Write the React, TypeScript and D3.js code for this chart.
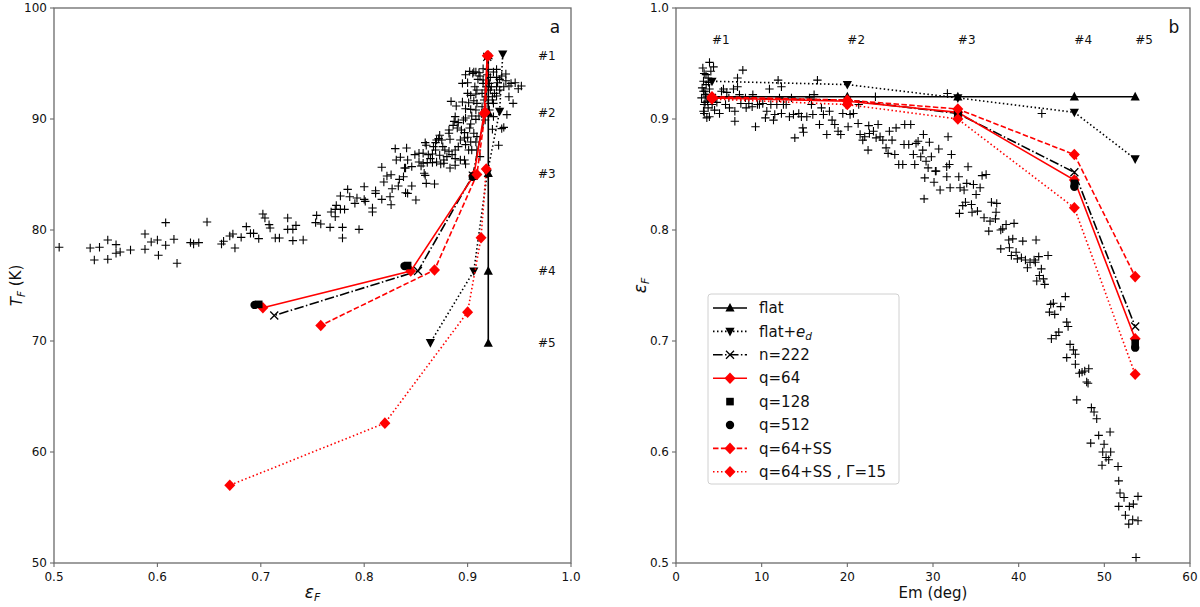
import React from 'react';
import * as d3 from 'd3';

// ---------------- DATA ----------------
const STATIONS = ['#1', '#2', '#3', '#4', '#5'];
const EM = [4.2, 20.0, 32.9, 46.5, 53.6];

const FLAT_EPS = [0.92, 0.92, 0.92, 0.92, 0.92];
const FLAT_T = [95.7, 90.6, 85.1, 76.3, 69.8];
const FLATED_EPS = [0.934, 0.931, 0.919, 0.906, 0.864];
const FLATED_T = [95.85, 90.7, 85.1, 76.3, 69.85];
const N222_EPS = [0.919, 0.917, 0.905, 0.852, 0.713];
const N222_T = [95.6, 90.5, 84.9, 76.3, 72.3];
const Q64_EPS = [0.919, 0.916, 0.906, 0.845, 0.702];
const Q64_T = [95.7, 90.5, 84.9, 76.3, 73.0];
const Q128_IDX = [2, 3, 4];
const Q128_EPS = [0.906, 0.842, 0.698];
const Q128_T = [84.85, 76.8, 73.3];
const Q512_IDX = [2, 3, 4];
const Q512_EPS = [0.905, 0.839, 0.694];
const Q512_T = [84.8, 76.75, 73.25];
const Q64SS_EPS = [0.920, 0.917, 0.909, 0.868, 0.758];
const Q64SS_T = [95.7, 90.6, 85.0, 76.4, 71.4];
const G15_EPS = [0.918, 0.913, 0.900, 0.820, 0.670];
const G15_T = [85.5, 79.3, 72.6, 62.6, 57.0];

// observations: left panel [eps_F, T_F]
const OBS_LEFT: [number, number][] = [
  [0.505,78.44],[0.535,78.38],[0.544,78.44],[0.552,79.10],[0.560,78.68],[0.539,77.30],[0.552,77.36],[0.560,77.90],
  [0.564,78.02],[0.574,78.20],[0.588,78.26],[0.588,79.64],[0.594,78.92],[0.600,79.10],[0.601,77.72],[0.608,78.62],
  [0.608,80.66],[0.616,79.16],[0.619,77.00],[0.632,78.86],[0.635,78.74],[0.640,78.86],[0.648,80.72],[0.662,78.74],
  [0.664,78.98],[0.670,79.46],[0.673,79.64],[0.675,78.38],[0.681,79.34],[0.686,80.30],[0.690,79.70],[0.693,79.70],
  [0.698,79.22],[0.702,81.44],[0.704,81.08],[0.708,80.48],[0.709,80.18],[0.714,79.28],[0.718,79.28],[0.726,81.08],
  [0.726,80.06],[0.731,80.06],[0.734,80.42],[0.731,79.04],[0.741,79.10],[0.754,81.32],[0.753,80.66],[0.758,80.54],
  [0.767,80.24],[0.768,81.62],[0.772,81.86],[0.773,82.22],[0.777,81.86],[0.779,80.24],[0.779,79.28],[0.781,81.86],
  [0.772,81.20],[0.777,83.06],[0.784,83.66],[0.786,83.00],[0.791,82.40],[0.793,82.88],[0.795,80.06],[0.800,83.90],
  [0.800,82.76],[0.801,82.58],[0.808,81.98],[0.808,81.62],[0.811,83.30],[0.811,83.54],[0.817,82.76],[0.825,83.00],
  [0.826,82.28],[0.827,83.72],[0.817,85.65],[0.819,84.32],[0.822,84.86],[0.826,84.98],[0.833,83.96],[0.834,84.56],
  [0.838,84.80],[0.840,85.59],[0.840,83.36],[0.842,83.30],[0.846,83.96],[0.850,82.70],[0.858,85.11],[0.859,84.92],
  [0.860,84.20],[0.868,84.14],[0.831,86.31],[0.835,86.55],[0.842,86.31],[0.839,85.59],[0.846,85.71],[0.853,86.13],
  [0.849,86.79],[0.859,87.87],[0.860,87.63],[0.862,86.79],[0.864,86.43],[0.866,86.07],[0.870,86.13],[0.874,85.95],
  [0.877,86.01],[0.883,85.59],[0.888,85.83],[0.888,86.43],[0.893,86.31],[0.897,86.31],[0.898,85.95],[0.830,87.33],
  [0.841,87.39],[0.853,86.91],[0.857,86.91],[0.870,88.11],[0.873,88.53],[0.876,87.51],[0.878,87.21],[0.882,87.09],
  [0.883,88.17],[0.888,87.21],[0.891,87.51],[0.893,88.11],[0.897,88.29],[0.898,87.69],[0.901,87.21],[0.903,87.93],
  [0.867,87.51],[0.869,87.87],[0.875,88.11],[0.872,88.23],[0.882,89.01],[0.886,89.43],[0.890,89.19],[0.894,89.01],
  [0.897,88.77],[0.902,89.19],[0.906,88.71],[0.909,88.41],[0.882,88.71],[0.887,89.79],[0.888,90.21],[0.891,89.67],
  [0.896,89.91],[0.898,90.09],[0.903,89.55],[0.908,89.97],[0.889,91.17],[0.884,91.59],[0.895,91.53],[0.898,90.93],
  [0.901,91.47],[0.906,91.65],[0.903,90.87],[0.904,90.27],[0.908,90.81],[0.911,90.27],[0.900,92.31],[0.903,92.13],
  [0.908,92.25],[0.909,91.41],[0.914,91.11],[0.895,93.21],[0.900,93.27],[0.898,93.99],[0.902,94.29],[0.905,94.11],
  [0.908,94.23],[0.910,93.57],[0.912,93.87],[0.915,93.21],[0.917,92.61],[0.907,92.91],[0.909,92.61],[0.914,92.31],
  [0.921,93.21],[0.922,92.61],[0.922,93.75],[0.924,92.01],[0.925,91.41],[0.926,92.31],[0.928,92.91],[0.928,93.75],
  [0.929,93.27],[0.931,93.57],[0.933,93.87],[0.937,94.05],[0.935,92.91],[0.937,93.45],[0.940,92.97],[0.942,93.21],
  [0.946,93.27],[0.949,92.73],[0.952,92.97],[0.944,91.41],[0.940,92.01],[0.938,90.39],[0.933,89.13],[0.935,89.25],
  [0.930,87.63],[0.924,89.07],[0.925,94.23],[0.928,94.47],[0.920,94.47],[0.915,94.53],[0.911,94.17],[0.906,94.23],
  [0.918,92.01],[0.920,91.41],[0.928,92.07],[0.931,92.61],[0.924,91.71],[0.908,87.93],[0.904,87.21],[0.909,87.21],
  [0.912,86.61],[0.900,88.35],[0.885,86.79],[0.880,86.61],[0.877,86.31],[0.873,86.73],[0.869,87.21],[0.866,86.85],
  [0.861,86.07],[0.857,86.01],[0.855,85.77],[0.915,93.51],[0.918,92.91],[0.919,93.99],[0.923,92.91],[0.916,91.71],
  [0.921,90.81],[0.917,89.91],[0.925,90.21],
];

// observations: right panel [Em, eps_F]
const OBS_RIGHT: [number, number][] = [
  [3.13,0.946],[3.91,0.951],[4.38,0.947],[3.29,0.941],[4.07,0.943],[3.75,0.937],[3.21,0.934],[3.52,0.931],
  [3.05,0.928],[3.37,0.925],[2.98,0.919],[3.44,0.922],[3.91,0.927],[3.68,0.916],[3.29,0.913],[3.21,0.907],
  [3.75,0.910],[3.60,0.901],[4.22,0.913],[4.77,0.915],[5.08,0.905],[5.31,0.925],[5.54,0.927],[5.93,0.924],
  [5.78,0.913],[6.17,0.919],[6.24,0.910],[6.87,0.907],[6.87,0.898],[6.71,0.927],[7.18,0.929],[7.18,0.937],
  [7.80,0.944],[7.41,0.922],[7.57,0.914],[8.11,0.919],[8.19,0.910],[8.50,0.914],[8.97,0.922],[9.28,0.893],
  [8.89,0.911],[9.51,0.913],[9.74,0.913],[10.13,0.914],[10.44,0.901],[10.60,0.907],[10.91,0.927],[11.07,0.913],
  [11.38,0.899],[11.77,0.913],[11.92,0.935],[12.31,0.929],[12.31,0.905],[11.53,0.904],[12.08,0.919],[12.54,0.913],
  [12.86,0.913],[13.24,0.902],[13.48,0.919],[13.71,0.904],[13.87,0.883],[14.33,0.905],[14.64,0.902],[14.80,0.892],
  [14.88,0.888],[15.27,0.902],[15.58,0.919],[15.81,0.913],[15.97,0.904],[16.12,0.922],[16.51,0.935],[16.75,0.895],
  [16.98,0.910],[17.21,0.904],[17.60,0.886],[17.91,0.907],[18.22,0.899],[18.53,0.895],[18.92,0.889],[19.23,0.886],
  [19.47,0.905],[19.86,0.913],[20.09,0.893],[20.32,0.904],[20.71,0.905],[21.26,0.896],[21.33,0.913],[21.49,0.886],
  [21.80,0.881],[22.03,0.884],[22.42,0.872],[22.50,0.894],[22.58,0.887],[23.05,0.889],[23.28,0.920],[23.36,0.883],
  [23.59,0.895],[23.82,0.884],[24.14,0.881],[24.52,0.874],[24.76,0.869],[24.91,0.889],[25.22,0.881],[25.54,0.868],
  [25.69,0.892],[26.00,0.859],[26.47,0.859],[26.62,0.877],[26.70,0.895],[27.17,0.877],[27.40,0.895],[27.71,0.868],
  [27.87,0.859],[28.02,0.878],[28.26,0.880],[28.57,0.866],[28.80,0.872],[28.88,0.886],[28.96,0.828],[29.04,0.847],
  [29.19,0.862],[29.43,0.856],[29.58,0.879],[29.81,0.866],[30.12,0.843],[30.28,0.853],[30.36,0.853],[30.67,0.873],
  [31.60,0.857],[31.76,0.884],[31.91,0.859],[32.15,0.868],[31.68,0.923],[34.09,0.857],[42.7,0.905],
  [3.4,0.915],[3.6,0.920],[3.2,0.925],[4.0,0.918],[3.8,0.933],[3.5,0.940],[3.3,0.905],[4.5,0.908],[3.9,0.902],
  [31.61,0.848],[30.83,0.836],[32.00,0.838],[33.01,0.848],[33.16,0.838],[33.63,0.836],[33.94,0.842],[34.72,0.841],
  [35.03,0.832],[35.50,0.838],[35.73,0.849],[36.20,0.850],[33.79,0.825],[33.47,0.822],[34.49,0.823],[35.19,0.817],
  [33.09,0.815],[34.56,0.816],[36.82,0.825],[37.44,0.824],[35.96,0.811],[36.66,0.808],[37.29,0.810],[37.36,0.816],
  [36.51,0.799],[37.91,0.800],[38.14,0.801],[38.53,0.805],[39.46,0.806],[38.84,0.791],[39.31,0.792],[40.48,0.790],
  [37.91,0.783],[38.92,0.784],[39.70,0.780],[39.15,0.777],[39.85,0.774],[40.32,0.775],[40.79,0.773],[41.02,0.766],
  [41.33,0.771],[41.80,0.773],[41.95,0.771],[42.34,0.776],[42.65,0.765],[42.03,0.791],[43.43,0.777],[42.42,0.759],
  [42.89,0.756],[42.11,0.754],[43.04,0.751],[45.45,0.740],[43.74,0.733],[44.05,0.734],[44.91,0.731],[43.59,0.726],
  [44.21,0.724],[45.61,0.717],[45.77,0.713],[43.82,0.702],[44.37,0.705],[44.68,0.708],[46.00,0.697],[46.39,0.692],
  [46.62,0.688],[45.61,0.685],[46.62,0.679],[47.09,0.671],[47.40,0.672],[47.71,0.673],[48.18,0.675],[47.94,0.663],
  [48.10,0.662],[46.78,0.647],[48.49,0.640],[48.80,0.636],[49.11,0.630],[49.34,0.615],[50.67,0.618],[48.41,0.608],
  [49.97,0.607],[49.81,0.600],[50.74,0.600],[50.20,0.595],[50.51,0.593],[49.73,0.588],[51.60,0.587],[51.68,0.574],
  [51.83,0.563],[52.30,0.559],[53.93,0.560],[51.68,0.551],[52.92,0.551],[53.39,0.553],[52.46,0.543],[53.31,0.539],
  [53.93,0.538],[52.85,0.535],[53.70,0.505],
];

const LEFT_X_TICKS = [0.5, 0.6, 0.7, 0.8, 0.9, 1.0];
const LEFT_Y_TICKS = [50, 60, 70, 80, 90, 100];
const RIGHT_X_TICKS = [0, 10, 20, 30, 40, 50, 60];
const RIGHT_Y_TICKS = [0.5, 0.6, 0.7, 0.8, 0.9, 1.0];

type Series = { key: string; idx: number[]; eps: number[]; T: number[] };
const SERIES: Series[] = [
  { key: 'flat', idx: [0, 1, 2, 3, 4], eps: FLAT_EPS, T: FLAT_T },
  { key: 'flated', idx: [0, 1, 2, 3, 4], eps: FLATED_EPS, T: FLATED_T },
  { key: 'n222', idx: [0, 1, 2, 3, 4], eps: N222_EPS, T: N222_T },
  { key: 'q64', idx: [0, 1, 2, 3, 4], eps: Q64_EPS, T: Q64_T },
  { key: 'q128', idx: Q128_IDX, eps: Q128_EPS, T: Q128_T },
  { key: 'q512', idx: Q512_IDX, eps: Q512_EPS, T: Q512_T },
  { key: 'q64ss', idx: [0, 1, 2, 3, 4], eps: Q64SS_EPS, T: Q64SS_T },
  { key: 'g15', idx: [0, 1, 2, 3, 4], eps: G15_EPS, T: G15_T },
];

// ---------------- STYLES ----------------
const STYLE: Record<string, { color: string; dash: string | null; marker: string; line: boolean }> = {
  flat: { color: '#000', dash: null, marker: '^', line: true },
  flated: { color: '#000', dash: '1.5,2.5', marker: 'v', line: true },
  n222: { color: '#000', dash: '9.6,2.4,1.5,2.4', marker: 'x', line: true },
  q64: { color: '#ff0000', dash: null, marker: 'D', line: true },
  q128: { color: '#000', dash: null, marker: 's', line: false },
  q512: { color: '#000', dash: null, marker: 'o', line: false },
  q64ss: { color: '#ff0000', dash: '5.5,2.4', marker: 'D', line: true },
  g15: { color: '#ff0000', dash: '1.5,2.5', marker: 'D', line: true },
};

const FONT = 'DejaVu Sans, sans-serif';
const AXIS_COLOR = '#6a6a6a';

const LP = { x0: 54, x1: 571, y0: 8, y1: 563 };
const RP = { x0: 676, x1: 1190, y0: 8, y1: 563 };

function Marker({ type, x, y, color }: { type: string; x: number; y: number; color: string }) {
  const t = `translate(${x},${y})`;
  switch (type) {
    case '^':
      return <path transform={t} d="M0,-5L4.6,3.6L-4.6,3.6Z" fill={color} />;
    case 'v':
      return <path transform={t} d="M0,5L4.6,-3.6L-4.6,-3.6Z" fill={color} />;
    case 'x':
      return <path transform={t} d="M-4,-4L4,4M-4,4L4,-4" stroke={color} strokeWidth={1.3} fill="none" />;
    case 'D':
      return <path transform={t} d="M0,-5.8L5.5,0L0,5.8L-5.5,0Z" fill={color} />;
    case 's':
      return <rect x={x - 3.8} y={y - 3.8} width={7.6} height={7.6} fill={color} />;
    case 'o':
      return <circle cx={x} cy={y} r={4.2} fill={color} />;
    default:
      return null;
  }
}

function Plus({ x, y }: { x: number; y: number }) {
  return <path transform={`translate(${x},${y})`} d="M-4.2,0H4.2M0,-4.2V4.2" stroke="#000" strokeWidth={1.1} />;
}

function Frame({ P, xs, ys, xt, yt, xfmt, yfmt }: any) {
  return (
    <g>
      <rect x={P.x0} y={P.y0} width={P.x1 - P.x0} height={P.y1 - P.y0} fill="none" stroke={AXIS_COLOR} strokeWidth={1.3} />
      {xt.map((v: number) => (
        <g key={'x' + v}>
          <line x1={xs(v)} x2={xs(v)} y1={P.y1} y2={P.y1 + 4} stroke={AXIS_COLOR} strokeWidth={1.1} />
          <text x={xs(v)} y={P.y1 + 18} textAnchor="middle" fontSize={12} fontFamily={FONT} fill="#111">{xfmt(v)}</text>
        </g>
      ))}
      {yt.map((v: number) => (
        <g key={'y' + v}>
          <line x1={P.x0 - 4} x2={P.x0} y1={ys(v)} y2={ys(v)} stroke={AXIS_COLOR} strokeWidth={1.1} />
          <text x={P.x0 - 7} y={ys(v)} dy="0.36em" textAnchor="end" fontSize={12} fontFamily={FONT} fill="#111">{yfmt(v)}</text>
        </g>
      ))}
    </g>
  );
}

function ModelLines({ pts, k }: { pts: [number, number][]; k: string }) {
  const st = STYLE[k];
  const line = d3.line<[number, number]>().x(d => d[0]).y(d => d[1]);
  return (
    <g>
      {st.line && (
        <path d={line(pts) || ''} fill="none" stroke={st.color} strokeWidth={1.6} strokeDasharray={st.dash || undefined} />
      )}
      {pts.map((p, i) => <Marker key={i} type={st.marker} x={p[0]} y={p[1]} color={st.color} />)}
    </g>
  );
}

const LEGEND_ITEMS = ['flat', 'flated', 'n222', 'q64', 'q128', 'q512', 'q64ss', 'g15'];

function LegendLabel({ k, x, y }: { k: string; x: number; y: number }) {
  const common = { x, y, fontSize: 15, fontFamily: FONT, fill: '#111', dy: '0.35em' } as any;
  switch (k) {
    case 'flat': return <text {...common}>flat</text>;
    case 'flated':
      return <text {...common}>flat+<tspan fontStyle="italic">e</tspan><tspan fontStyle="italic" fontSize={10.5} dy="0.3em">d</tspan></text>;
    case 'n222': return <text {...common}>n=222</text>;
    case 'q64': return <text {...common}>q=64</text>;
    case 'q128': return <text {...common}>q=128</text>;
    case 'q512': return <text {...common}>q=512</text>;
    case 'q64ss': return <text {...common}>q=64+SS</text>;
    case 'g15': return <text {...common}>q=64+SS , Γ=15</text>;
    default: return null;
  }
}

export default function App() {
  const lx = d3.scaleLinear().domain([0.5, 1.0]).range([LP.x0, LP.x1]);
  const ly = d3.scaleLinear().domain([50, 100]).range([LP.y1, LP.y0]);
  const rx = d3.scaleLinear().domain([0, 60]).range([RP.x0, RP.x1]);
  const ry = d3.scaleLinear().domain([0.5, 1.0]).range([RP.y1, RP.y0]);
  const f1 = d3.format('.1f');
  const f0 = d3.format('d');

  const legX = 708, legY = 294, legW = 191, legH = 190, rowH = 23.4;

  return (
    <svg width={1200} height={607} style={{ position: 'absolute', left: 0, top: 0, background: '#fff' }}>
      <rect width={1200} height={607} fill="#fff" />
      {/* LEFT PANEL */}
      <g>
        {OBS_LEFT.map((d, i) => <Plus key={i} x={lx(d[0])} y={ly(d[1])} />)}
        {SERIES.map(s => (
          <ModelLines key={s.key} k={s.key} pts={s.idx.map((_, j) => [lx(s.eps[j]), ly(s.T[j])] as [number, number])} />
        ))}
        {STATIONS.map((s, i) => (
          <text key={s} x={lx(0.968)} y={ly(FLAT_T[i])} dy="0.35em" fontSize={12} fontFamily={FONT} fill="#111">{s}</text>
        ))}
        <text x={LP.x1 - 16} y={LP.y0 + 25} fontSize={17} fontFamily={FONT} fill="#111" textAnchor="middle">a</text>
        <Frame P={LP} xs={lx} ys={ly} xt={LEFT_X_TICKS} yt={LEFT_Y_TICKS} xfmt={f1} yfmt={f0} />
        <text x={(LP.x0 + LP.x1) / 2} y={598} textAnchor="middle" fontSize={17} fontFamily={FONT} fill="#111">
          <tspan fontStyle="italic">ε</tspan><tspan fontStyle="italic" fontSize={11} dy="0.3em">F</tspan>
        </text>
        <text transform={`translate(22,${(LP.y0 + LP.y1) / 2}) rotate(-90)`} textAnchor="middle" fontSize={15} fontFamily={FONT} fill="#111">
          <tspan fontStyle="italic">T</tspan><tspan fontStyle="italic" fontSize={10.5} dy="0.3em">F</tspan><tspan dy="-0.3em"> (K)</tspan>
        </text>
      </g>

      {/* RIGHT PANEL */}
      <g>
        {OBS_RIGHT.map((d, i) => <Plus key={i} x={rx(d[0])} y={ry(d[1])} />)}
        {SERIES.map(s => (
          <ModelLines key={s.key} k={s.key} pts={s.idx.map((ii, j) => [rx(EM[ii]), ry(s.eps[j])] as [number, number])} />
        ))}
        {STATIONS.map((s, i) => (
          <text key={s} x={rx(EM[i])} y={ry(0.971)} dy="0.35em" fontSize={12} fontFamily={FONT} fill="#111">{s}</text>
        ))}
        <text x={RP.x1 - 16} y={RP.y0 + 25} fontSize={17} fontFamily={FONT} fill="#111" textAnchor="middle">b</text>
        <Frame P={RP} xs={rx} ys={ry} xt={RIGHT_X_TICKS} yt={RIGHT_Y_TICKS} xfmt={f0} yfmt={f1} />
        <text x={(RP.x0 + RP.x1) / 2} y={598} textAnchor="middle" fontSize={15} fontFamily={FONT} fill="#111">Em (deg)</text>
        <text transform={`translate(646,${(RP.y0 + RP.y1) / 2}) rotate(-90)`} textAnchor="middle" fontSize={17} fontFamily={FONT} fill="#111">
          <tspan fontStyle="italic">ε</tspan><tspan fontStyle="italic" fontSize={11} dy="0.3em">F</tspan>
        </text>

        {/* legend */}
        <rect x={legX} y={legY} width={legW} height={legH} rx={3} fill="#fff" fillOpacity={0.8} stroke="#d0d0d0" strokeWidth={1} />
        {LEGEND_ITEMS.map((k, i) => {
          const st = STYLE[k];
          const cy = legY + 14 + i * rowH;
          return (
            <g key={k}>
              {st.line && (
                <line x1={713} x2={747} y1={cy} y2={cy} stroke={st.color} strokeWidth={1.6} strokeDasharray={st.dash || undefined} />
              )}
              <Marker type={st.marker} x={730} y={cy} color={st.color} />
              <LegendLabel k={k} x={759} y={cy} />
            </g>
          );
        })}
      </g>
    </svg>
  );
}
